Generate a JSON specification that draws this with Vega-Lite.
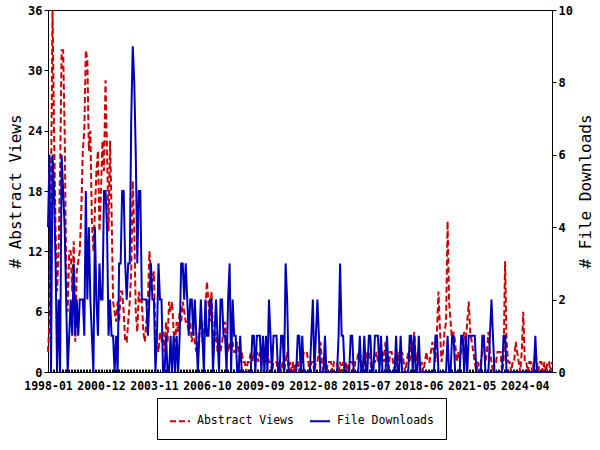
{
"$schema": "https://vega.github.io/schema/vega-lite/v6.json",
"width": 504, "height": 362,
"autosize": "none",
"padding": {"left": 48, "top": 10, "right": 48, "bottom": 78},
"background": "white",
"datasets": {"monthly": [
{"month":"1998-01","views":2,"downloads":4},{"month":"1998-02","views":5,"downloads":6},{"month":"1998-03","views":18,"downloads":0},{"month":"1998-04","views":36,"downloads":6},{"month":"1998-05","views":24,"downloads":5},{"month":"1998-06","views":14,"downloads":3},{"month":"1998-07","views":8,"downloads":0},{"month":"1998-08","views":12,"downloads":2},{"month":"1998-09","views":20,"downloads":0},{"month":"1998-10","views":32,"downloads":6},{"month":"1998-11","views":32,"downloads":5},{"month":"1998-12","views":24,"downloads":4},
{"month":"1999-01","views":10,"downloads":2},{"month":"1999-02","views":6,"downloads":0},{"month":"1999-03","views":12,"downloads":1},{"month":"1999-04","views":12,"downloads":2},{"month":"1999-05","views":8,"downloads":1},{"month":"1999-06","views":13,"downloads":3},{"month":"1999-07","views":3,"downloads":1},{"month":"1999-08","views":10,"downloads":2},{"month":"1999-09","views":11,"downloads":1},{"month":"1999-10","views":12,"downloads":2},{"month":"1999-11","views":16,"downloads":2},{"month":"1999-12","views":22,"downloads":2},
{"month":"2000-01","views":24,"downloads":1},{"month":"2000-02","views":32,"downloads":5},{"month":"2000-03","views":31,"downloads":2},{"month":"2000-04","views":22,"downloads":4},{"month":"2000-05","views":24,"downloads":2},{"month":"2000-06","views":15,"downloads":1},{"month":"2000-07","views":12,"downloads":0},{"month":"2000-08","views":16,"downloads":4},{"month":"2000-09","views":20,"downloads":2},{"month":"2000-10","views":22,"downloads":1},{"month":"2000-11","views":14,"downloads":3},{"month":"2000-12","views":18,"downloads":2},
{"month":"2001-01","views":23,"downloads":2},{"month":"2001-02","views":20,"downloads":5},{"month":"2001-03","views":29,"downloads":5},{"month":"2001-04","views":22,"downloads":4},{"month":"2001-05","views":14,"downloads":1},{"month":"2001-06","views":23,"downloads":2},{"month":"2001-07","views":16,"downloads":1},{"month":"2001-08","views":7,"downloads":1},{"month":"2001-09","views":6,"downloads":0},{"month":"2001-10","views":5,"downloads":1},{"month":"2001-11","views":7,"downloads":0},{"month":"2001-12","views":5,"downloads":3},
{"month":"2002-01","views":8,"downloads":3},{"month":"2002-02","views":8,"downloads":5},{"month":"2002-03","views":6,"downloads":5},{"month":"2002-04","views":3,"downloads":3},{"month":"2002-05","views":3,"downloads":2},{"month":"2002-06","views":5,"downloads":3},{"month":"2002-07","views":7,"downloads":3},{"month":"2002-08","views":10,"downloads":7},{"month":"2002-09","views":19,"downloads":9},{"month":"2002-10","views":14,"downloads":8},{"month":"2002-11","views":6,"downloads":6},{"month":"2002-12","views":4,"downloads":3},
{"month":"2003-01","views":8,"downloads":5},{"month":"2003-02","views":7,"downloads":5},{"month":"2003-03","views":7,"downloads":2},{"month":"2003-04","views":4,"downloads":2},{"month":"2003-05","views":3,"downloads":2},{"month":"2003-06","views":5,"downloads":2},{"month":"2003-07","views":7,"downloads":1},{"month":"2003-08","views":12,"downloads":2},{"month":"2003-09","views":10,"downloads":3},{"month":"2003-10","views":9,"downloads":2},{"month":"2003-11","views":10,"downloads":2},{"month":"2003-12","views":3,"downloads":0},
{"month":"2004-01","views":3,"downloads":1},{"month":"2004-02","views":2,"downloads":3},{"month":"2004-03","views":4,"downloads":2},{"month":"2004-04","views":3,"downloads":2},{"month":"2004-05","views":4,"downloads":0},{"month":"2004-06","views":2,"downloads":0},{"month":"2004-07","views":5,"downloads":1},{"month":"2004-08","views":3,"downloads":0},{"month":"2004-09","views":7,"downloads":0},{"month":"2004-10","views":6,"downloads":1},{"month":"2004-11","views":7,"downloads":0},{"month":"2004-12","views":4,"downloads":1},
{"month":"2005-01","views":3,"downloads":0},{"month":"2005-02","views":5,"downloads":1},{"month":"2005-03","views":4,"downloads":0},{"month":"2005-04","views":6,"downloads":1},{"month":"2005-05","views":5,"downloads":3},{"month":"2005-06","views":7,"downloads":3},{"month":"2005-07","views":6,"downloads":2},{"month":"2005-08","views":5,"downloads":3},{"month":"2005-09","views":5,"downloads":2},{"month":"2005-10","views":4,"downloads":1},{"month":"2005-11","views":5,"downloads":2},{"month":"2005-12","views":3,"downloads":2},
{"month":"2006-01","views":4,"downloads":1},{"month":"2006-02","views":3,"downloads":2},{"month":"2006-03","views":2,"downloads":1},{"month":"2006-04","views":3,"downloads":0},{"month":"2006-05","views":4,"downloads":1},{"month":"2006-06","views":5,"downloads":2},{"month":"2006-07","views":3,"downloads":1},{"month":"2006-08","views":4,"downloads":0},{"month":"2006-09","views":6,"downloads":2},{"month":"2006-10","views":9,"downloads":1},{"month":"2006-11","views":7,"downloads":1},{"month":"2006-12","views":5,"downloads":2},
{"month":"2007-01","views":8,"downloads":2},{"month":"2007-02","views":4,"downloads":0},{"month":"2007-03","views":3,"downloads":1},{"month":"2007-04","views":4,"downloads":2},{"month":"2007-05","views":2,"downloads":1},{"month":"2007-06","views":3,"downloads":0},{"month":"2007-07","views":2,"downloads":2},{"month":"2007-08","views":3,"downloads":2},{"month":"2007-09","views":4,"downloads":1},{"month":"2007-10","views":5,"downloads":1},{"month":"2007-11","views":3,"downloads":0},{"month":"2007-12","views":2,"downloads":2},
{"month":"2008-01","views":3,"downloads":3},{"month":"2008-02","views":2,"downloads":0},{"month":"2008-03","views":3,"downloads":2},{"month":"2008-04","views":2,"downloads":1},{"month":"2008-05","views":2,"downloads":1},{"month":"2008-06","views":3,"downloads":0},{"month":"2008-07","views":2,"downloads":0},{"month":"2008-08","views":1,"downloads":1},{"month":"2008-09","views":2,"downloads":0},{"month":"2008-10","views":1,"downloads":0},{"month":"2008-11","views":1,"downloads":0},{"month":"2008-12","views":0,"downloads":0},
{"month":"2009-01","views":1,"downloads":0},{"month":"2009-02","views":1,"downloads":0},{"month":"2009-03","views":2,"downloads":0},{"month":"2009-04","views":1,"downloads":1},{"month":"2009-05","views":2,"downloads":1},{"month":"2009-06","views":1,"downloads":0},{"month":"2009-07","views":2,"downloads":1},{"month":"2009-08","views":1,"downloads":1},{"month":"2009-09","views":2,"downloads":1},{"month":"2009-10","views":1,"downloads":0},{"month":"2009-11","views":2,"downloads":1},{"month":"2009-12","views":1,"downloads":0},
{"month":"2010-01","views":1,"downloads":1},{"month":"2010-02","views":2,"downloads":0},{"month":"2010-03","views":1,"downloads":2},{"month":"2010-04","views":1,"downloads":1},{"month":"2010-05","views":0,"downloads":0},{"month":"2010-06","views":1,"downloads":1},{"month":"2010-07","views":1,"downloads":1},{"month":"2010-08","views":1,"downloads":1},{"month":"2010-09","views":0,"downloads":0},{"month":"2010-10","views":1,"downloads":0},{"month":"2010-11","views":0,"downloads":1},{"month":"2010-12","views":1,"downloads":1},
{"month":"2011-01","views":0,"downloads":0},{"month":"2011-02","views":1,"downloads":3},{"month":"2011-03","views":2,"downloads":2},{"month":"2011-04","views":0,"downloads":0},{"month":"2011-05","views":1,"downloads":0},{"month":"2011-06","views":0,"downloads":0},{"month":"2011-07","views":1,"downloads":0},{"month":"2011-08","views":0,"downloads":0},{"month":"2011-09","views":1,"downloads":0},{"month":"2011-10","views":1,"downloads":1},{"month":"2011-11","views":0,"downloads":1},{"month":"2011-12","views":1,"downloads":0},
{"month":"2012-01","views":1,"downloads":1},{"month":"2012-02","views":2,"downloads":0},{"month":"2012-03","views":2,"downloads":0},{"month":"2012-04","views":2,"downloads":0},{"month":"2012-05","views":1,"downloads":0},{"month":"2012-06","views":0,"downloads":0},{"month":"2012-07","views":1,"downloads":1},{"month":"2012-08","views":1,"downloads":2},{"month":"2012-09","views":0,"downloads":0},{"month":"2012-10","views":1,"downloads":1},{"month":"2012-11","views":1,"downloads":2},{"month":"2012-12","views":2,"downloads":1},
{"month":"2013-01","views":3,"downloads":0},{"month":"2013-02","views":1,"downloads":0},{"month":"2013-03","views":0,"downloads":0},{"month":"2013-04","views":1,"downloads":1},{"month":"2013-05","views":0,"downloads":0},{"month":"2013-06","views":1,"downloads":0},{"month":"2013-07","views":1,"downloads":0},{"month":"2013-08","views":1,"downloads":0},{"month":"2013-09","views":0,"downloads":0},{"month":"2013-10","views":1,"downloads":0},{"month":"2013-11","views":1,"downloads":0},{"month":"2013-12","views":1,"downloads":0},
{"month":"2014-01","views":0,"downloads":1},{"month":"2014-02","views":1,"downloads":3},{"month":"2014-03","views":0,"downloads":1},{"month":"2014-04","views":1,"downloads":1},{"month":"2014-05","views":0,"downloads":0},{"month":"2014-06","views":1,"downloads":0},{"month":"2014-07","views":0,"downloads":0},{"month":"2014-08","views":1,"downloads":0},{"month":"2014-09","views":1,"downloads":1},{"month":"2014-10","views":1,"downloads":1},{"month":"2014-11","views":0,"downloads":0},{"month":"2014-12","views":1,"downloads":0},
{"month":"2015-01","views":1,"downloads":0},{"month":"2015-02","views":2,"downloads":0},{"month":"2015-03","views":2,"downloads":1},{"month":"2015-04","views":1,"downloads":0},{"month":"2015-05","views":0,"downloads":0},{"month":"2015-06","views":1,"downloads":1},{"month":"2015-07","views":1,"downloads":0},{"month":"2015-08","views":2,"downloads":0},{"month":"2015-09","views":2,"downloads":1},{"month":"2015-10","views":1,"downloads":1},{"month":"2015-11","views":0,"downloads":0},{"month":"2015-12","views":1,"downloads":0},
{"month":"2016-01","views":1,"downloads":1},{"month":"2016-02","views":2,"downloads":1},{"month":"2016-03","views":1,"downloads":1},{"month":"2016-04","views":1,"downloads":0},{"month":"2016-05","views":2,"downloads":1},{"month":"2016-06","views":2,"downloads":0},{"month":"2016-07","views":1,"downloads":0},{"month":"2016-08","views":3,"downloads":0},{"month":"2016-09","views":1,"downloads":1},{"month":"2016-10","views":0,"downloads":0},{"month":"2016-11","views":2,"downloads":0},{"month":"2016-12","views":2,"downloads":0},
{"month":"2017-01","views":1,"downloads":0},{"month":"2017-02","views":0,"downloads":0},{"month":"2017-03","views":1,"downloads":1},{"month":"2017-04","views":1,"downloads":0},{"month":"2017-05","views":2,"downloads":0},{"month":"2017-06","views":1,"downloads":1},{"month":"2017-07","views":2,"downloads":0},{"month":"2017-08","views":1,"downloads":0},{"month":"2017-09","views":0,"downloads":0},{"month":"2017-10","views":1,"downloads":0},{"month":"2017-11","views":2,"downloads":0},{"month":"2017-12","views":1,"downloads":1},
{"month":"2018-01","views":3,"downloads":1},{"month":"2018-02","views":2,"downloads":0},{"month":"2018-03","views":4,"downloads":1},{"month":"2018-04","views":1,"downloads":0},{"month":"2018-05","views":2,"downloads":0},{"month":"2018-06","views":1,"downloads":1},{"month":"2018-07","views":0,"downloads":0},{"month":"2018-08","views":1,"downloads":0},{"month":"2018-09","views":0,"downloads":0},{"month":"2018-10","views":1,"downloads":0},{"month":"2018-11","views":2,"downloads":0},{"month":"2018-12","views":1,"downloads":0},
{"month":"2019-01","views":1,"downloads":0},{"month":"2019-02","views":2,"downloads":0},{"month":"2019-03","views":3,"downloads":0},{"month":"2019-04","views":2,"downloads":0},{"month":"2019-05","views":1,"downloads":1},{"month":"2019-06","views":4,"downloads":1},{"month":"2019-07","views":8,"downloads":0},{"month":"2019-08","views":4,"downloads":0},{"month":"2019-09","views":1,"downloads":0},{"month":"2019-10","views":2,"downloads":0},{"month":"2019-11","views":4,"downloads":0},{"month":"2019-12","views":5,"downloads":0},
{"month":"2020-01","views":15,"downloads":1},{"month":"2020-02","views":7,"downloads":0},{"month":"2020-03","views":5,"downloads":0},{"month":"2020-04","views":3,"downloads":1},{"month":"2020-05","views":4,"downloads":1},{"month":"2020-06","views":3,"downloads":0},{"month":"2020-07","views":1,"downloads":0},{"month":"2020-08","views":2,"downloads":0},{"month":"2020-09","views":1,"downloads":0},{"month":"2020-10","views":2,"downloads":1},{"month":"2020-11","views":3,"downloads":1},{"month":"2020-12","views":4,"downloads":0},
{"month":"2021-01","views":3,"downloads":1},{"month":"2021-02","views":5,"downloads":0},{"month":"2021-03","views":7,"downloads":1},{"month":"2021-04","views":4,"downloads":1},{"month":"2021-05","views":3,"downloads":1},{"month":"2021-06","views":2,"downloads":1},{"month":"2021-07","views":1,"downloads":1},{"month":"2021-08","views":0,"downloads":0},{"month":"2021-09","views":1,"downloads":0},{"month":"2021-10","views":0,"downloads":0},{"month":"2021-11","views":1,"downloads":0},{"month":"2021-12","views":2,"downloads":1},
{"month":"2022-01","views":3,"downloads":1},{"month":"2022-02","views":1,"downloads":0},{"month":"2022-03","views":2,"downloads":0},{"month":"2022-04","views":4,"downloads":0},{"month":"2022-05","views":2,"downloads":1},{"month":"2022-06","views":1,"downloads":2},{"month":"2022-07","views":0,"downloads":1},{"month":"2022-08","views":1,"downloads":0},{"month":"2022-09","views":1,"downloads":0},{"month":"2022-10","views":2,"downloads":0},{"month":"2022-11","views":2,"downloads":0},{"month":"2022-12","views":2,"downloads":0},
{"month":"2023-01","views":0,"downloads":0},{"month":"2023-02","views":1,"downloads":1},{"month":"2023-03","views":11,"downloads":1},{"month":"2023-04","views":3,"downloads":0},{"month":"2023-05","views":1,"downloads":0},{"month":"2023-06","views":1,"downloads":0},{"month":"2023-07","views":0,"downloads":0},{"month":"2023-08","views":1,"downloads":0},{"month":"2023-09","views":1,"downloads":0},{"month":"2023-10","views":3,"downloads":0},{"month":"2023-11","views":2,"downloads":0},{"month":"2023-12","views":1,"downloads":0},
{"month":"2024-01","views":0,"downloads":0},{"month":"2024-02","views":2,"downloads":0},{"month":"2024-03","views":6,"downloads":0},{"month":"2024-04","views":1,"downloads":0},{"month":"2024-05","views":1,"downloads":0},{"month":"2024-06","views":0,"downloads":0},{"month":"2024-07","views":1,"downloads":0},{"month":"2024-08","views":1,"downloads":0},{"month":"2024-09","views":0,"downloads":0},{"month":"2024-10","views":1,"downloads":0},{"month":"2024-11","views":2,"downloads":1},{"month":"2024-12","views":1,"downloads":0},
{"month":"2025-01","views":0,"downloads":0},{"month":"2025-02","views":1,"downloads":0},{"month":"2025-03","views":1,"downloads":0},{"month":"2025-04","views":0,"downloads":0},{"month":"2025-05","views":1,"downloads":0},{"month":"2025-06","views":0,"downloads":0},{"month":"2025-07","views":1,"downloads":0},{"month":"2025-08","views":1,"downloads":0},{"month":"2025-09","views":0,"downloads":0},{"month":"2025-10","views":1,"downloads":0}
]},
"data": {"name": "monthly"},
"encoding": {
  "x": {"field": "month", "type": "ordinal", "sort": null,
        "scale": {"type": "point", "padding": 0},
        "axis": {"title": null, "labelAngle": 0, "tickSize": -3, "labelPadding": 11, "labelOverlap": false, "labelBound": false,
                 "labelFont": "DejaVu Sans Mono", "labelFontSize": 11.5, "labelFontWeight": "bold", "labelColor": "black",
                 "labelExpr": "(((toNumber(slice(datum.value,0,4))-1998)*12 + toNumber(slice(datum.value,5,7)) - 1) % 35 == 0) ? datum.value : ''"}}
},
"layer": [
  {"transform": [{"fold": ["views"], "as": ["series", "value"]}],
   "mark": {"type": "line", "strokeWidth": 2},
   "encoding": {
     "y": {"field": "value", "type": "quantitative", "scale": {"domain": [0, 36], "nice": false},
           "axis": {"values": [0, 6, 12, 18, 24, 30, 36], "title": "# Abstract Views", "grid": false, "tickSize": 4, "labelPadding": 2, "titlePadding": 4}},
     "color": {"field": "series", "type": "nominal", "scale": {"domain": ["views", "downloads"], "range": ["#cc0000", "#0000b8"]},
               "legend": {"title": null, "orient": "none", "legendX": 109, "legendY": 388, "direction": "horizontal", "labelExpr": "datum.label == 'views' ? 'Abstract Views' : 'File Downloads'"}},
     "strokeDash": {"field": "series", "type": "nominal", "scale": {"domain": ["views", "downloads"], "range": [[6, 3], [1, 0]]},
               "legend": {"title": null, "orient": "none", "legendX": 109, "legendY": 388, "direction": "horizontal", "labelExpr": "datum.label == 'views' ? 'Abstract Views' : 'File Downloads'"}}
   }},
  {"transform": [{"fold": ["downloads"], "as": ["series", "value"]}],
   "mark": {"type": "line", "strokeWidth": 2},
   "encoding": {
     "y": {"field": "value", "type": "quantitative", "scale": {"domain": [0, 10], "nice": false},
           "axis": {"orient": "right", "values": [0, 2, 4, 6, 8, 10], "title": "# File Downloads", "titleAngle": 270, "titleBaseline": "top", "grid": false, "tickSize": 4, "labelPadding": 2, "titlePadding": 5}},
     "color": {"field": "series", "type": "nominal", "scale": {"domain": ["views", "downloads"], "range": ["#cc0000", "#0000b8"]},
               "legend": {"title": null, "orient": "none", "legendX": 109, "legendY": 388, "direction": "horizontal", "labelExpr": "datum.label == 'views' ? 'Abstract Views' : 'File Downloads'"}},
     "strokeDash": {"field": "series", "type": "nominal", "scale": {"domain": ["views", "downloads"], "range": [[6, 3], [1, 0]]},
               "legend": {"title": null, "orient": "none", "legendX": 109, "legendY": 388, "direction": "horizontal", "labelExpr": "datum.label == 'views' ? 'Abstract Views' : 'File Downloads'"}}
   }}
],
"resolve": {"scale": {"y": "independent"}},
"config": {
  "view": {"stroke": "black", "strokeWidth": 1},
  "axis": {"domainColor": "black", "tickColor": "black", "labelColor": "black", "titleColor": "black",
           "labelFont": "DejaVu Sans Mono", "labelFontSize": 12, "labelFontWeight": "bold", "titleFont": "DejaVu Sans Mono", "titleFontSize": 16, "titleFontWeight": "normal"},
  "legend": {"symbolType": "stroke", "symbolSize": 400, "symbolStrokeWidth": 2, "labelFont": "DejaVu Sans Mono", "labelFontSize": 11.5, "labelColor": "black",
             "strokeColor": "black", "padding": 12, "columnPadding": 12, "labelOffset": 6}
}
}
